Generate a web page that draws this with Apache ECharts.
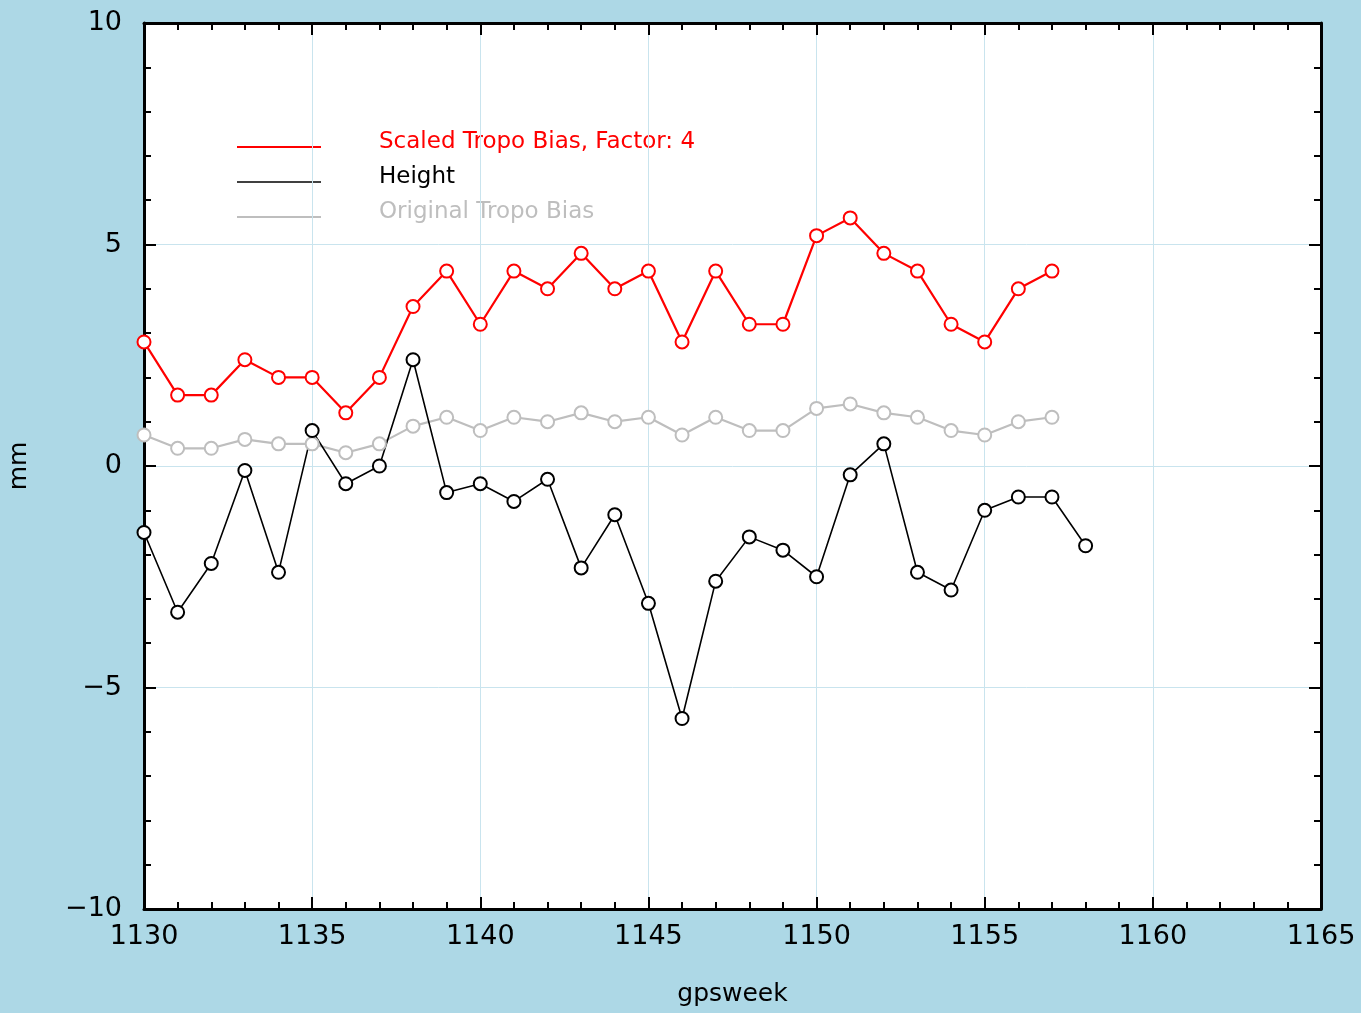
<!DOCTYPE html>
<html>
<head>
<meta charset="utf-8">
<script src="https://cdn.jsdelivr.net/npm/echarts@6/dist/echarts.min.js"></script>
<style>
html,body{margin:0;padding:0;background:#add8e6;}
#chart{width:1361px;height:1013px;}
</style>
</head>
<body>
<div id="chart"></div>
<script>
// Data
const weeks = [1130,1131,1132,1133,1134,1135,1136,1137,1138,1139,1140,1141,1142,1143,1144,1145,1146,1147,1148,1149,1150,1151,1152,1153,1154,1155,1156,1157,1158];
const scaledTropoBias = [2.8,1.6,1.6,2.4,2.0,2.0,1.2,2.0,3.6,4.4,3.2,4.4,4.0,4.8,4.0,4.4,2.8,4.4,3.2,3.2,5.2,5.6,4.8,4.4,3.2,2.8,4.0,4.4];
const height = [-1.5,-3.3,-2.2,-0.1,-2.4,0.8,-0.4,0.0,2.4,-0.6,-0.4,-0.8,-0.3,-2.3,-1.1,-3.1,-5.7,-2.6,-1.6,-1.9,-2.5,-0.2,0.5,-2.4,-2.8,-1.0,-0.7,-0.7,-1.8];
const originalTropoBias = [0.7,0.4,0.4,0.6,0.5,0.5,0.3,0.5,0.9,1.1,0.8,1.1,1.0,1.2,1.0,1.1,0.7,1.1,0.8,0.8,1.3,1.4,1.2,1.1,0.8,0.7,1.0,1.1];
const seriesNames = ['Scaled Tropo Bias, Factor: 4','Height','Original Tropo Bias'];
const seriesColors = ['#ff0000','#000000','#bebebe'];
const seriesWidths = [2.2, 1.6, 2.2];

const pairs = (vals) => vals.map((v,i) => [weeks[i], v]);
const font = 'DejaVu Sans';

const chart = echarts.init(document.getElementById('chart'), null, {renderer:'canvas'});

const axisCommon = {
  axisLine:{show:true,onZero:false,lineStyle:{color:'#000',width:3}},
  axisTick:{show:true,inside:true,length:12,lineStyle:{color:'#000',width:2}},
  minorTick:{show:true,splitNumber:5,length:7,lineStyle:{color:'#000',width:2}},
  splitLine:{show:false},
  minorSplitLine:{show:false}
};

function mkSeries(idx, vals){
  return {
    name: seriesNames[idx],
    type:'line',
    data: pairs(vals),
    xAxisIndex:0, yAxisIndex:0,
    symbol:'emptyCircle',
    symbolSize:13,
    lineStyle:{color:seriesColors[idx],width:seriesWidths[idx]},
    itemStyle:{color:seriesColors[idx],borderColor:seriesColors[idx],borderWidth:2},
    animation:false
  };
}

// legend drawn as graphic elements (line + label per series)
const legendGraphics = [];
seriesNames.forEach((n,i)=>{
  const yLine = 147 + i*35;
  legendGraphics.push({type:'line', shape:{x1:237,y1:yLine,x2:321,y2:yLine},
    style:{stroke:seriesColors[i], lineWidth:seriesWidths[i]}, silent:true});
  legendGraphics.push({type:'text', left:379, top:yLine-16,
    style:{text:n, fill:seriesColors[i], font:'23px "DejaVu Sans"'}, silent:true});
});

chart.setOption({
  backgroundColor:'#add8e6',
  animation:false,
  textStyle:{fontFamily:font},
  grid:{left:144,top:23,right:40,bottom:104,show:true,backgroundColor:'#ffffff',borderWidth:0,
        containLabel:false, outerBoundsMode:'none'},
  graphic: legendGraphics,
  xAxis:[
    Object.assign({}, axisCommon, {
      type:'value', min:1130, max:1165, interval:5, position:'bottom',
      name:'gpsweek', nameLocation:'middle', nameGap:73,
      nameTextStyle:{fontFamily:font,fontSize:25,color:'#000'},
      axisLabel:{show:true,fontFamily:font,fontSize:27,color:'#000',margin:14,
        formatter:(v)=>String(v)},
      splitLine:{show:true,lineStyle:{color:'#c9e4ee',width:1}}
    }),
    Object.assign({}, axisCommon, {
      type:'value', min:1130, max:1165, interval:5, position:'top',
      axisLabel:{show:false}
    })
  ],
  yAxis:[
    Object.assign({}, axisCommon, {
      type:'value', min:-10, max:10, interval:5, position:'left',
      name:'mm', nameLocation:'middle', nameGap:112, nameRotate:90,
      nameTextStyle:{fontFamily:font,fontSize:25,color:'#000'},
      axisLabel:{show:true,fontFamily:font,fontSize:27,color:'#000',margin:22,
        formatter:(v)=> v<0 ? '\u2212'+Math.abs(v) : String(v)},
      splitLine:{show:true,lineStyle:{color:'#c9e4ee',width:1}}
    }),
    Object.assign({}, axisCommon, {
      type:'value', min:-10, max:10, interval:5, position:'right',
      axisLabel:{show:false}
    })
  ],
  series:[
    mkSeries(2, originalTropoBias),
    mkSeries(1, height),
    mkSeries(0, scaledTropoBias)
  ]
});
</script>
</body>
</html>
